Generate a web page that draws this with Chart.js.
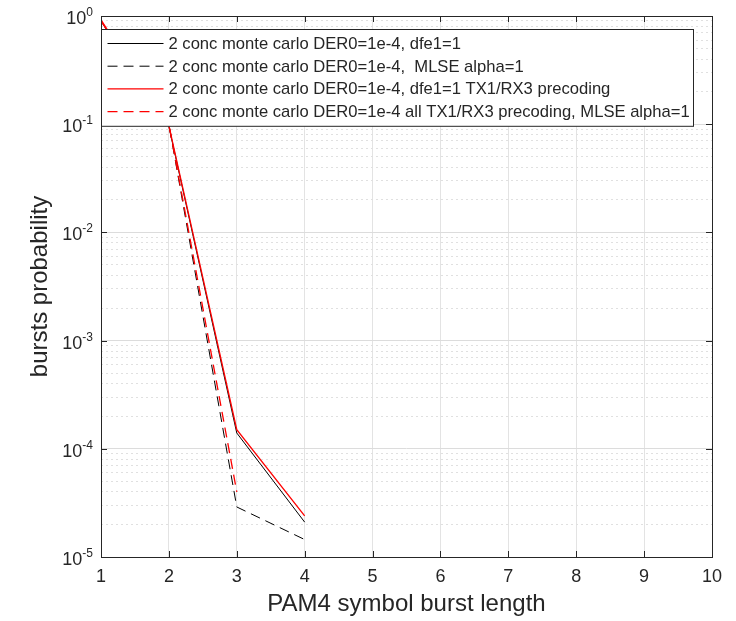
<!DOCTYPE html>
<html>
<head>
<meta charset="utf-8">
<script src="https://cdn.jsdelivr.net/npm/chart.js@4"></script>
<style>
  body { margin: 0; background: #fff; }
  #wrap { width: 736px; height: 621px; }
</style>
</head>
<body>
<div id="wrap"><canvas id="myChart" width="736" height="621"></canvas></div>
<script>
/* globals Chart:false */
const burstLength = [1, 2, 3, 4];
const dfeBlack = [0.9, 0.095, 1.4e-4, 2.1e-5];
const mlseBlack = [0.9, 0.1, 2.9e-5, 1.45e-5];
const dfeRed = [0.92, 0.097, 1.5e-4, 2.4e-5];
const mlseRed = [0.9, 0.1, 4.0e-5];
const seriesLabels = [
  "2 conc monte carlo DER0=1e-4, dfe1=1",
  "2 conc monte carlo DER0=1e-4,  MLSE alpha=1",
  "2 conc monte carlo DER0=1e-4, dfe1=1 TX1/RX3 precoding",
  "2 conc monte carlo DER0=1e-4 all TX1/RX3 precoding, MLSE alpha=1",
];
const xTickLabels = ["1", "2", "3", "4", "5", "6", "7", "8", "9", "10"];
const yTickExponents = [0, -1, -2, -3, -4, -5];

const FONT = "'Liberation Sans', Arial, Helvetica, sans-serif";
const AXIS_COLOR = "#262626";

function toPoints(values) {
  return values.map((v, i) => ({ x: burstLength[i], y: v }));
}

const datasets = [
  { label: seriesLabels[0], data: toPoints(dfeBlack), borderColor: "#000000", borderWidth: 1, order: 4 },
  { label: seriesLabels[1], data: toPoints(mlseBlack), borderColor: "#000000", borderWidth: 1, borderDash: [10, 6], order: 3 },
  { label: seriesLabels[2], data: toPoints(dfeRed), borderColor: "#ff0000", borderWidth: 1.3, order: 2 },
  { label: seriesLabels[3], data: toPoints(mlseRed), borderColor: "#ff0000", borderWidth: 1.3, borderDash: [10, 6], order: 1 },
].map((d) => Object.assign({ pointRadius: 0, fill: false, tension: 0 }, d));

// box, inward ticks, superscript y labels, legend inside the axes
const matlabAxes = {
  id: "matlabAxes",
  afterDraw(chart) {
    const { ctx, chartArea: a, scales } = chart;
    const xs = scales.x;
    const ys = scales.y;
    ctx.save();
    ctx.strokeStyle = AXIS_COLOR;
    ctx.lineWidth = 1;
    ctx.setLineDash([]);
    ctx.beginPath();
    xTickLabels.forEach((_, i) => {
      const px = Math.round(xs.getPixelForValue(i + 1)) + 0.5;
      ctx.moveTo(px, a.bottom); ctx.lineTo(px, a.bottom - 6);
      ctx.moveTo(px, a.top); ctx.lineTo(px, a.top + 6);
    });
    yTickExponents.forEach((e) => {
      const py = Math.round(ys.getPixelForValue(Math.pow(10, e))) + 0.5;
      ctx.moveTo(a.left, py); ctx.lineTo(a.left + 6, py);
      ctx.moveTo(a.right, py); ctx.lineTo(a.right - 6, py);
    });
    ctx.stroke();
    ctx.strokeRect(Math.round(a.left) + 0.5, Math.round(a.top) + 0.5,
      Math.round(a.right - a.left), Math.round(a.bottom - a.top));

    // y tick labels 10^n
    ctx.fillStyle = AXIS_COLOR;
    yTickExponents.forEach((e) => {
      const py = ys.getPixelForValue(Math.pow(10, e));
      const expText = String(e);
      ctx.font = "12px " + FONT;
      const expW = ctx.measureText(expText).width;
      const right = a.left - 8;
      ctx.textAlign = "left";
      ctx.textBaseline = "alphabetic";
      ctx.fillText(expText, right - expW, py);
      ctx.font = "18px " + FONT;
      ctx.textAlign = "right";
      ctx.textBaseline = "middle";
      ctx.fillText("10", right - expW, py + 3);
    });

    // legend
    ctx.font = "16.6px " + FONT;
    const maxW = Math.max(...seriesLabels.map((t) => ctx.measureText(t).width));
    const lx = Math.round(a.left) + 0.5;
    const ly = Math.round(a.top) + 13.5;
    const rowH = 22.7;
    const boxW = Math.round(67 + maxW + 4);
    const boxH = rowH * seriesLabels.length + 6;
    ctx.fillStyle = "#ffffff";
    ctx.fillRect(lx, ly, boxW, boxH);
    ctx.strokeStyle = AXIS_COLOR;
    ctx.strokeRect(lx, ly, boxW, boxH);
    chart.data.datasets.forEach((ds, i) => {
      const ry = ly + 14 + i * rowH;
      ctx.strokeStyle = ds.borderColor;
      ctx.lineWidth = ds.borderWidth;
      ctx.setLineDash(ds.borderDash || []);
      ctx.beginPath();
      ctx.moveTo(lx + 6, ry);
      ctx.lineTo(lx + 62, ry);
      ctx.stroke();
      ctx.setLineDash([]);
      ctx.fillStyle = AXIS_COLOR;
      ctx.textAlign = "left";
      ctx.textBaseline = "middle";
      ctx.fillText(ds.label, lx + 67, ry + 1);
    });
    ctx.restore();
  },
};

document.addEventListener("DOMContentLoaded", () => {
  const ctx = document.getElementById("myChart").getContext("2d");
  new Chart(ctx, {
    type: "line",
    data: { datasets },
    plugins: [matlabAxes],
    options: {
      responsive: false,
      animation: false,
      layout: { padding: { left: 22, top: 16, right: 24, bottom: 0 } },
      plugins: { legend: { display: false }, tooltip: { enabled: false } },
      scales: {
        x: {
          type: "linear",
          min: 1,
          max: 10,
          afterFit: (scale) => { scale.height = 64; },
          afterBuildTicks: (scale) => {
            scale.ticks = xTickLabels.map((_, i) => ({ value: i + 1 }));
          },
          ticks: {
            autoSkip: false,
            maxRotation: 0,
            padding: 9,
            color: AXIS_COLOR,
            font: { family: FONT, size: 18 },
            callback: (v) => xTickLabels[v - 1],
          },
          grid: { color: "#e3e3e3", drawTicks: false },
          border: { display: false },
          title: {
            display: true,
            text: "PAM4 symbol burst length",
            color: AXIS_COLOR,
            font: { family: FONT, size: 24 },
            padding: { top: 0, bottom: 2 },
          },
        },
        y: {
          type: "logarithmic",
          min: 1e-5,
          max: 1,
          afterFit: (scale) => { scale.width = 79; },
          afterBuildTicks: (scale) => {
            const t = [];
            for (let e = -5; e < 0; e++) {
              for (let m = 1; m <= 9; m++) {
                t.push({ value: m * Math.pow(10, e), major: m === 1 });
              }
            }
            t.push({ value: 1, major: true });
            scale.ticks = t;
          },
          ticks: { display: false, autoSkip: false },
          grid: {
            drawTicks: false,
            color: (c) => (c.tick && c.tick.major ? "#dcdcdc" : "#e0e0e0"),
          },
          border: {
            display: false,
            dash: (c) => (c.tick && !c.tick.major ? [2, 3] : []),
          },
          title: {
            display: true,
            text: "bursts probability",
            color: AXIS_COLOR,
            font: { family: FONT, size: 24 },
            padding: { top: 4, bottom: 0 },
          },
        },
      },
    },
  });
});
</script>
</body>
</html>
